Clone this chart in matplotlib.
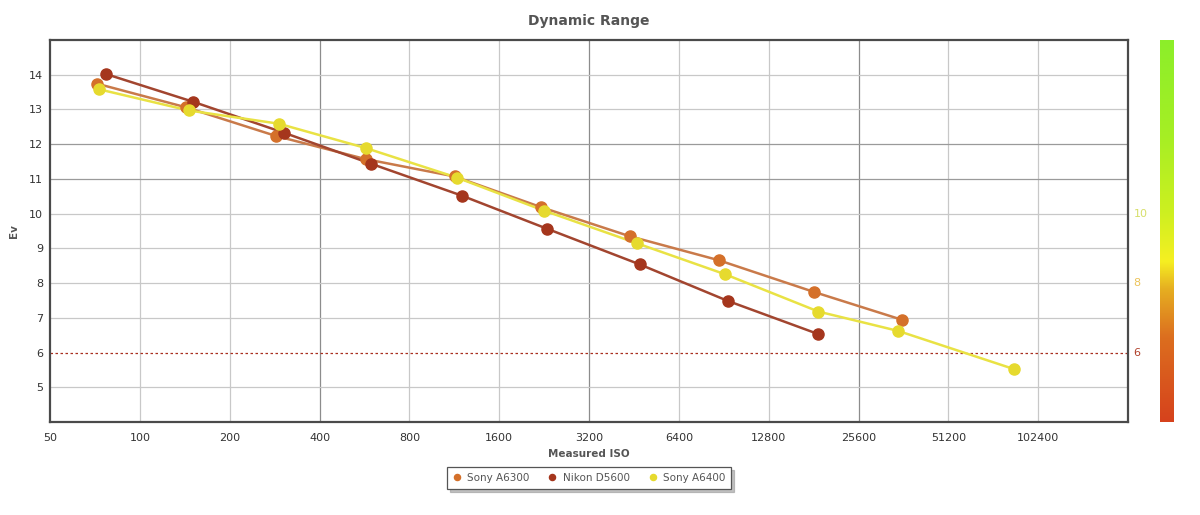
import matplotlib
matplotlib.use("Agg")
import matplotlib.pyplot as plt
import numpy as np
from matplotlib.colors import LinearSegmentedColormap
import matplotlib.transforms as mtransforms

plt.rcParams['font.family'] = ['DejaVu Sans']

# ---- data ----
a6300_iso = [72, 143, 285, 571, 1135, 2204, 4378, 8695, 18225, 35900]
a6300_ev = [13.74, 13.06, 12.24, 11.57, 11.07, 10.19, 9.35, 8.66, 7.74, 6.94]

d5600_iso = [77, 151, 304, 594, 1198, 2307, 4728, 9317, 18790]
d5600_ev = [14.02, 13.22, 12.33, 11.44, 10.52, 9.57, 8.54, 7.49, 6.53]

a6400_iso = [73, 146, 292, 571, 1153, 2255, 4618, 9171, 18790, 34840, 85200]
a6400_ev = [13.58, 12.97, 12.59, 11.89, 11.04, 10.09, 9.15, 8.25, 7.18, 6.62, 5.52]

x_ticks = [50, 100, 200, 400, 800, 1600, 3200, 6400, 12800, 25600, 51200, 102400]
y_ticks = [5, 6, 7, 8, 9, 10, 11, 12, 13, 14]
right_labels = [(10, '10', '#d6df6a'), (8, '8', '#ecc35a'), (6, '6', '#b0402a')]

series = [
    ("Sony A6300", a6300_iso, a6300_ev, '#c97a4a', '#d4702a'),
    ("Nikon D5600", d5600_iso, d5600_ev, '#a2452f', '#a5361d'),
    ("Sony A6400", a6400_iso, a6400_ev, '#e9e244', '#e6da2e'),
]

fig = plt.figure(figsize=(12, 5.15), dpi=100)
W, H = 1200, 515
ax = fig.add_axes([50 / W, 1 - 422 / H, (1128 - 50) / W, (422 - 40) / H])

ax.set_xscale('log', base=2)
ax.set_xlim(50, 204800)
ax.set_ylim(4, 15)

# grid
dark_x = {400, 3200, 25600}
for t in x_ticks[1:]:
    ax.axvline(t, color='#8c8c8c' if t in dark_x else '#c8c8c8', lw=0.9, zorder=0)
dark_y = {11, 12}
for t in y_ticks:
    if t == 6:
        continue
    ax.axhline(t, color='#9a9a9a' if t in dark_y else '#c8c8c8', lw=0.9, zorder=0)
ax.axhline(6, color='#a83020', lw=0.9, ls=(0, (2, 2)), zorder=1)

for name, xs, ys, lc, mc in series:
    ax.plot(xs, ys, color=lc, lw=1.8, zorder=3)
    ax.plot(xs, ys, ls='none', marker='o', ms=8, mfc=mc, mec=mc, zorder=4, label=name)

ax.set_xticks(x_ticks)
ax.set_xticklabels([str(t) for t in x_ticks])
ax.xaxis.set_minor_locator(matplotlib.ticker.NullLocator())
ax.set_yticks(y_ticks)
ax.set_yticklabels([str(t) for t in y_ticks])
ax.tick_params(axis='both', length=0, labelsize=8, colors='#333333', pad=8)
ax.tick_params(axis='y', pad=5)

for s in ax.spines.values():
    s.set_color('#4a4a4a')
    s.set_linewidth(1.6)

ax.set_title('Dynamic Range', fontsize=10, fontweight='bold', color='#555555', pad=11)
ax.set_xlabel('Measured ISO', fontsize=7.5, fontweight='bold', color='#555555', labelpad=4)
ax.set_ylabel('Ev', fontsize=7.5, fontweight='bold', color='#555555', labelpad=7)

trans = mtransforms.blended_transform_factory(ax.transAxes, ax.transData)
for yv, txt, col in right_labels:
    ax.text(1.005, yv, txt, transform=trans, fontsize=8, color=col, ha='left', va='center')

# color bar
cax = fig.add_axes([1160 / W, 1 - 422 / H, 14 / W, (422 - 40) / H])
cmap = LinearSegmentedColormap.from_list('dr', [
    (0.0, '#d6421c'), (0.22, '#dc6e1f'), (0.35, '#e6b021'),
    (0.42, '#f6ef22'), (0.55, '#cdf020'), (0.75, '#a6ee24'), (1.0, '#8cee2a')])
grad = np.linspace(0, 1, 256).reshape(-1, 1)
cax.imshow(grad, aspect='auto', cmap=cmap, origin='lower', extent=[0, 1, 0, 1])
cax.set_axis_off()

# legend
leg = ax.legend(loc='upper center', bbox_to_anchor=(0.5, -0.105), ncol=3, frameon=True,
                fontsize=7.5, markerscale=0.55, handlelength=0.8, handletextpad=0.6,
                columnspacing=1.8, borderpad=0.55, fancybox=False,
                shadow={'color': '#999999', 'alpha': 0.6})
leg.get_frame().set_edgecolor('#555555')
leg.get_frame().set_linewidth(0.9)
for t in leg.get_texts():
    t.set_color('#555555')

fig.savefig('out.png', dpi=100)
